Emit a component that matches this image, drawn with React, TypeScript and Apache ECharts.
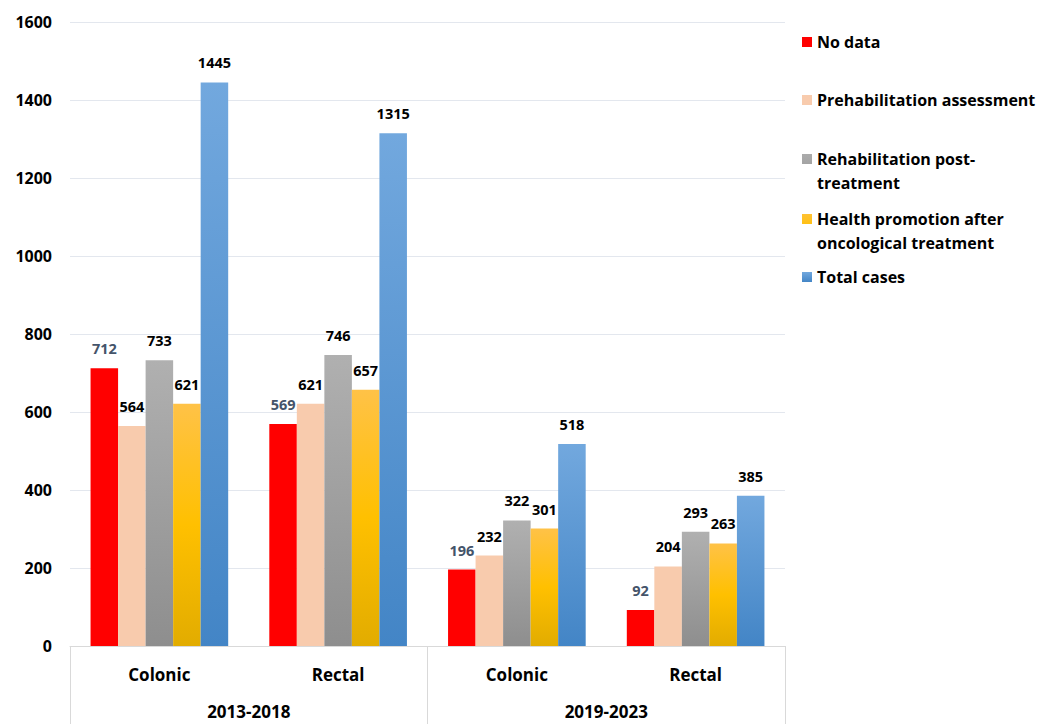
import React, { useEffect, useRef } from "react";
import * as echarts from "echarts";

const categories = ["Colonic", "Rectal", "Colonic", "Rectal"];
const periods = ["2013-2018", "2019-2023"];
const seriesNames = [
  "No data",
  "Prehabilitation assessment",
  "Rehabilitation post-\ntreatment",
  "Health promotion after\noncological treatment",
  "Total cases",
];
const noData = [712, 569, 196, 92];
const prehab = [564, 621, 232, 204];
const rehab = [733, 746, 322, 293];
const health = [621, 657, 301, 263];
const total = [1445, 1315, 518, 385];
const yTicks = [0, 200, 400, 600, 800, 1000, 1200, 1400, 1600];

const FONT = "'Open Sans', 'Noto Sans', sans-serif";

export default function App() {
  const ref = useRef<HTMLDivElement>(null);
  useEffect(() => {
    if (!ref.current) return;
    const chart = echarts.init(ref.current, undefined, { renderer: "svg" });
    const grad = (stops: [number, string][]) =>
      new echarts.graphic.LinearGradient(
        0, 0, 0, 1,
        stops.map(([offset, color]) => ({ offset, color }))
      );
    const colors = [
      "#FF0000",
      "#F8CBAD",
      grad([[0, "#B0B0B0"], [1, "#8E8E8E"]]),
      grad([[0, "#FFC247"], [0.5, "#FFC000"], [1, "#E2AC00"]]),
      grad([[0, "#72A8DE"], [1, "#4385C6"]]),
    ];
    const values = [noData, prehab, rehab, health, total];
    const twoLineIcon = "path://M0 0H0.01V0.01H0Z M0 7H10V17H0Z M9.99 47.99H10V48H9.99Z";
    const tops = [30, 88, 147, 207, 265];
    const legends = seriesNames.map((name, i) => {
      const multi = name.includes("\n");
      return {
        data: [name],
        left: 802,
        top: tops[i],
        orient: "vertical",
        padding: 0,
        itemWidth: 10,
        itemHeight: multi ? 48 : 10,
        icon: multi ? twoLineIcon : "rect",
        selectedMode: false,
        textStyle: {
          fontSize: 16,
          fontWeight: "bold",
          fontFamily: FONT,
          color: "#000",
          lineHeight: 24,
        },
      };
    });
    const series = seriesNames.map((name, i) => ({
      name,
      type: "bar",
      xAxisIndex: 0,
      yAxisIndex: 0,
      data: values[i],
      barGap: "0%",
      barCategoryGap: "23%",
      itemStyle: { color: colors[i] },
      label: {
        show: true,
        position: "top",
        distance: 12,
        fontSize: 14.5,
        fontWeight: "bold",
        fontFamily: FONT,
        color: i === 0 ? "#44546A" : "#000",
      },
    }));
    chart.setOption({
      animation: false,
      backgroundColor: "#fff",
      legend: legends,
      grid: { left: 70, right: 253, top: 22, bottom: 78, containLabel: false },
      xAxis: [
        {
          type: "category",
          data: categories,
          position: "bottom",
          axisLine: { show: true, lineStyle: { color: "#D9D9D9", width: 1 } },
          axisTick: { show: false },
          axisLabel: {
            margin: 20,
            fontSize: 17,
            fontWeight: "bold",
            fontFamily: FONT,
            color: "#000",
          },
          splitLine: { show: false },
        },
        {
          type: "category",
          data: periods,
          position: "bottom",
          axisLine: { show: false },
          axisTick: { show: true, length: 80, lineStyle: { color: "#D9D9D9", width: 1 } },
          axisLabel: {
            margin: 57,
            fontSize: 17,
            fontWeight: "bold",
            fontFamily: FONT,
            color: "#000",
          },
          splitLine: { show: false },
        },
      ],
      yAxis: {
        type: "value",
        min: yTicks[0],
        max: yTicks[yTicks.length - 1],
        interval: 200,
        axisLine: { show: false },
        axisTick: { show: false },
        axisLabel: {
          margin: 18,
          fontSize: 16,
          fontWeight: "bold",
          fontFamily: FONT,
          color: "#000",
          formatter: (v: number) => String(v),
        },
        splitLine: { lineStyle: { color: "#E3E7EE", width: 1 } },
      },
      series,
    });
    return () => chart.dispose();
  }, []);
  return (
    <div
      ref={ref}
      style={{ position: "fixed", left: 0, top: 0, width: 1038, height: 724 }}
    />
  );
}
